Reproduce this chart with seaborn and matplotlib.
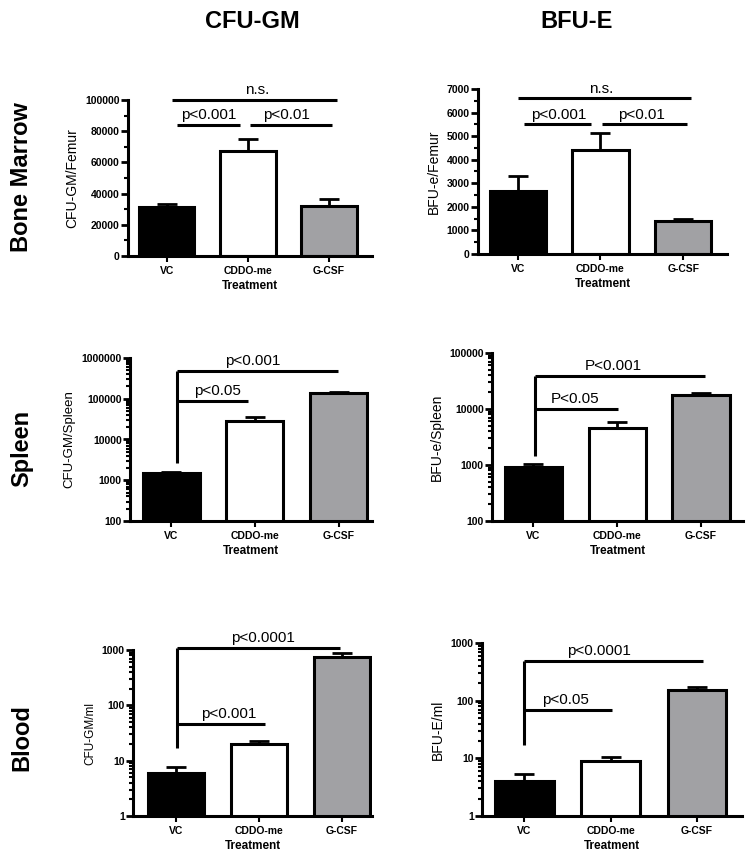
import numpy as np
import pandas as pd
import matplotlib
matplotlib.use("Agg")
import matplotlib.pyplot as plt
from matplotlib.ticker import MultipleLocator, LogLocator, NullFormatter, FuncFormatter
import seaborn as sns

sns.set_style("ticks")
plt.rcParams['font.family'] = ['Liberation Sans', 'DejaVu Sans']
for k in ["text.color", "axes.labelcolor", "xtick.color", "ytick.color", "axes.edgecolor"]:
    plt.rcParams[k] = "black"

# ---------------- data ----------------
treatments = ["VC", "CDDO-me", "G-CSF"]
bar_colors = ["#000000", "#ffffff", "#a0a0a5"]

bm_cfu_mean = [31500, 67500, 32000]
bm_cfu_err = [2000, 7500, 4500]
bm_bfu_mean = [2670, 4430, 1390]
bm_bfu_err = [620, 700, 110]

sp_cfu_mean = [1500, 28000, 137000]
sp_cfu_err = [60, 7000, 13000]
sp_bfu_mean = [920, 4570, 17800]
sp_bfu_err = [120, 1300, 1600]

bl_cfu_mean = [6.0, 20.0, 750]
bl_cfu_err = [1.7, 3.0, 130]
bl_bfu_mean = [4.0, 9.0, 153]
bl_bfu_err = [1.3, 1.4, 18]

col_titles = ["CFU-GM", "BFU-E"]
row_titles = ["Bone Marrow", "Spleen", "Blood"]
ylabels = ["CFU-GM/Femur", "BFU-e/Femur", "CFU-GM/Spleen", "BFU-e/Spleen", "CFU-GM/ml", "BFU-E/ml"]
xlabel = "Treatment"

# ---------------- layout ----------------
fig = plt.figure(figsize=(7.5, 8.63), dpi=100)
W, H = 750.0, 863.0

def add_ax(l, r, t, b):
    return fig.add_axes([l / W, 1 - b / H, (r - l) / W, (b - t) / H])

axes_px = [
    (128, 372, 100, 256),
    (478, 727, 89, 254),
    (130, 372, 358, 521),
    (492, 743, 353, 521),
    (133, 372, 650, 816),
    (482, 742, 643, 816),
]
ylabel_sizes = [10, 10, 9.5, 10, 8.5, 10]

panels = [
    dict(mean=bm_cfu_mean, err=bm_cfu_err, log=False, ylim=(0, 100000), major=20000, minor=10000,
         xlim=(-0.48, 2.53),
         lines=[(0.06, 2.1, 100000), (0.12, 0.9, 84000), (1.02, 2.04, 84000)],
         texts=[(1.11, 100000, "n.s."), (0.51, 84000, "p<0.001"), (1.48, 84000, "p<0.01")],
         vline=None),
    dict(mean=bm_bfu_mean, err=bm_bfu_err, log=False, ylim=(0, 7000), major=1000, minor=500,
         xlim=(-0.48, 2.53),
         lines=[(0.0, 2.1, 6600), (0.08, 0.89, 5500), (1.02, 2.05, 5500)],
         texts=[(1.01, 6600, "n.s."), (0.5, 5500, "p<0.001"), (1.5, 5500, "p<0.01")],
         vline=None),
    dict(mean=sp_cfu_mean, err=sp_cfu_err, log=True, ylim=(100, 1000000),
         xlim=(-0.49, 2.4),
         lines=[(0.07, 1.99, 480000), (0.07, 0.92, 87000)],
         texts=[(0.98, 480000, "p<0.001"), (0.55, 87000, "p<0.05")],
         vline=(0.07, 2650, 480000)),
    dict(mean=sp_bfu_mean, err=sp_bfu_err, log=True, ylim=(100, 100000),
         xlim=(-0.49, 2.5),
         lines=[(0.02, 2.05, 39000), (0.02, 1.01, 10000)],
         texts=[(0.95, 39000, "P<0.001"), (0.5, 10000, "P<0.05")],
         vline=(0.02, 1450, 39000)),
    dict(mean=bl_cfu_mean, err=bl_cfu_err, log=True, ylim=(1, 1000),
         xlim=(-0.52, 2.36),
         lines=[(0.01, 1.98, 1090), (0.01, 1.07, 46)],
         texts=[(1.05, 1090, "p<0.0001"), (0.63, 46, "p<0.001")],
         vline=(0.01, 17, 1090)),
    dict(mean=bl_bfu_mean, err=bl_bfu_err, log=True, ylim=(1, 1000),
         xlim=(-0.49, 2.52),
         lines=[(0.0, 2.07, 485), (0.0, 1.01, 69)],
         texts=[(0.86, 485, "p<0.0001"), (0.48, 69, "p<0.05")],
         vline=(0.0, 17, 485)),
]

LW = 2.2
for i, (p, box) in enumerate(zip(panels, axes_px)):
    ax = add_ax(*box)
    if p["log"]:
        ax.set_yscale("log")
    df = pd.DataFrame({"Treatment": treatments, "value": p["mean"]})
    sns.barplot(data=df, x="Treatment", y="value", hue="Treatment", palette=bar_colors,
                legend=False, edgecolor="black", linewidth=2.2, width=0.68,
                errorbar=None, ax=ax, zorder=2)
    ax.errorbar(x=np.arange(3), y=p["mean"], yerr=[np.zeros(3), p["err"]], fmt="none",
                ecolor="black", elinewidth=2, capsize=7, capthick=2, zorder=1)
    ax.set_ylim(*p["ylim"])
    ax.set_xlim(*p["xlim"])
    if p["log"]:
        ax.yaxis.set_major_locator(LogLocator(base=10, numticks=10))
        ax.yaxis.set_minor_locator(LogLocator(base=10, subs=np.arange(2, 10), numticks=20))
        ax.yaxis.set_minor_formatter(NullFormatter())
    else:
        ax.yaxis.set_major_locator(MultipleLocator(p["major"]))
        ax.yaxis.set_minor_locator(MultipleLocator(p["minor"]))
    ax.yaxis.set_major_formatter(FuncFormatter(lambda v, pos: f"{int(round(v))}"))
    sns.despine(ax=ax)
    for s in ["left", "bottom"]:
        ax.spines[s].set_linewidth(LW)
    ax.tick_params(axis="y", which="major", length=5, width=2, labelsize=7.5, pad=1)
    ax.tick_params(axis="y", which="minor", length=3, width=1.5)
    ax.tick_params(axis="x", which="major", length=4, width=1.5, labelsize=7.5, pad=3)
    for lab in ax.get_yticklabels() + ax.get_xticklabels():
        lab.set_fontweight("bold")
    ax.set_ylabel(ylabels[i], fontsize=ylabel_sizes[i], labelpad=4)
    ax.set_xlabel(xlabel, fontsize=8.5, fontweight="bold", labelpad=3)

    for (x0, x1, y) in p["lines"]:
        ax.plot([x0, x1], [y, y], color="black", lw=LW, clip_on=False, solid_capstyle="butt")
    if p["vline"] is not None:
        vx, y0, y1 = p["vline"]
        ax.plot([vx, vx], [y0, y1], color="black", lw=LW, clip_on=False, solid_capstyle="butt")
    for (x, y, t) in p["texts"]:
        ax.annotate(t, xy=(x, y), xytext=(0, 2), textcoords="offset points",
                    ha="center", va="bottom", fontsize=11, annotation_clip=False)

# column titles
fig.text(252 / W, 1 - 22 / H, col_titles[0], ha="center", va="center", fontsize=17, fontweight="bold")
fig.text(577 / W, 1 - 22 / H, col_titles[1], ha="center", va="center", fontsize=17, fontweight="bold")
# row titles
for name, yc in zip(row_titles, [177, 448, 738]):
    fig.text(22 / W, 1 - yc / H, name, ha="center", va="center", rotation=90,
             fontsize=17, fontweight="bold")

fig.savefig("out.png", dpi=100)
